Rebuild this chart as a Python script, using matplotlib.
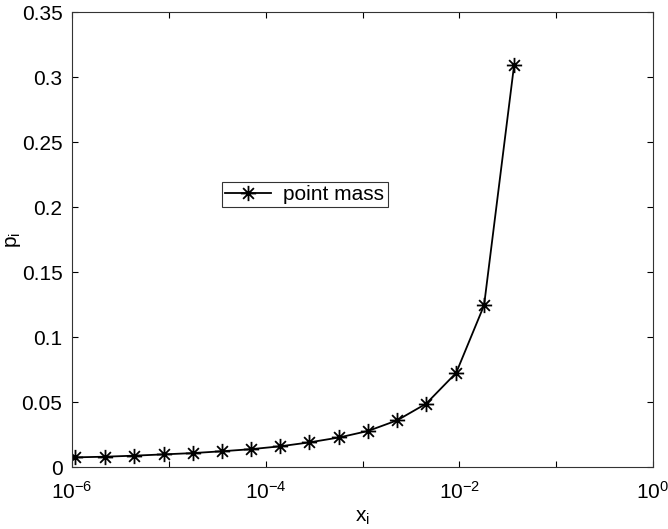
import math
import matplotlib
matplotlib.use("Agg")
import matplotlib.pyplot as plt
from matplotlib.path import Path
from matplotlib.ticker import FixedLocator, FuncFormatter, NullLocator

# valori
x_vals = [1.07e-6, 2.19e-6, 4.37e-6, 8.9e-6, 1.78e-5, 3.55e-5, 7.06e-5, 1.41e-4,
          2.81e-4, 5.73e-4, 1.14e-3, 2.28e-3, 4.54e-3, 9.27e-3, 1.80e-2, 3.68e-2]
p_vals = [0.0075, 0.0080, 0.0088, 0.0098, 0.0108, 0.0122, 0.0138, 0.0160,
          0.0190, 0.0228, 0.0278, 0.0360, 0.0488, 0.0725, 0.1245, 0.3095]
y_ticks = [0, 0.05, 0.1, 0.15, 0.2, 0.25, 0.3, 0.35]
y_labels = ["0", "0.05", "0.1", "0.15", "0.2", "0.25", "0.3", "0.35"]
x_ticks = [1e-6, 1e-5, 1e-4, 1e-3, 1e-2, 1e-1, 1e0]

plt.rcParams["font.family"] = ["Liberation Sans", "DejaVu Sans"]
plt.rcParams["mathtext.fontset"] = "custom"
plt.rcParams["mathtext.rm"] = "Liberation Sans"
plt.rcParams["mathtext.it"] = "Liberation Sans"
plt.rcParams["mathtext.default"] = "regular"

# asterisco stile matlab (+ e x sovrapposti)
d = 0.7071
asterisk = Path(
    [(0, -1), (0, 1), (-1, 0), (1, 0), (-d, -d), (d, d), (-d, d), (d, -d)],
    [Path.MOVETO, Path.LINETO] * 4)

fig = plt.figure(figsize = (6.68, 5.29), dpi = 100)
ax = fig.add_axes([0.108, 0.117, 0.8695, 0.86])

ax.plot(x_vals, p_vals, color = "k", lw = 1.3, marker = asterisk, markersize = 11,
        markeredgewidth = 1.3, fillstyle = "none", label = "point mass")

ax.set_xscale("log")
ax.set_xlim(1e-6, 1)
ax.set_ylim(0, 0.35)

ax.xaxis.set_major_locator(FixedLocator(x_ticks))
ax.xaxis.set_minor_locator(NullLocator())

def fmt(v, pos):
    e = int(round(math.log10(v)))
    return r"$10^{%d}$" % e if e % 2 == 0 else ""

ax.xaxis.set_major_formatter(FuncFormatter(fmt))
ax.set_yticks(y_ticks)
ax.set_yticklabels(y_labels)

ax.tick_params(direction = "in", length = 4.5, width = 0.8, top = True, right = True,
               labelsize = 15)
ax.tick_params(axis = "y", pad = 7)
ax.tick_params(axis = "x", pad = 10)
for s in ax.spines.values():
    s.set_linewidth(0.8)
    s.set_color("#333333")

ax.set_xlabel(r"$x_i$", fontsize = 15, labelpad = 4)
ax.set_ylabel(r"$p_i$", fontsize = 15)
ax.yaxis.set_label_coords(-0.084, 0.5)

leg = ax.legend(loc = "lower left", bbox_to_anchor = (0.258, 0.571), fontsize = 15,
                frameon = True, fancybox = False, edgecolor = "k", borderpad = 0.15,
                handlelength = 2.2, handletextpad = 0.6, borderaxespad = 0)
leg.get_frame().set_linewidth(0.8)

fig.savefig("out.png", dpi = 100)
